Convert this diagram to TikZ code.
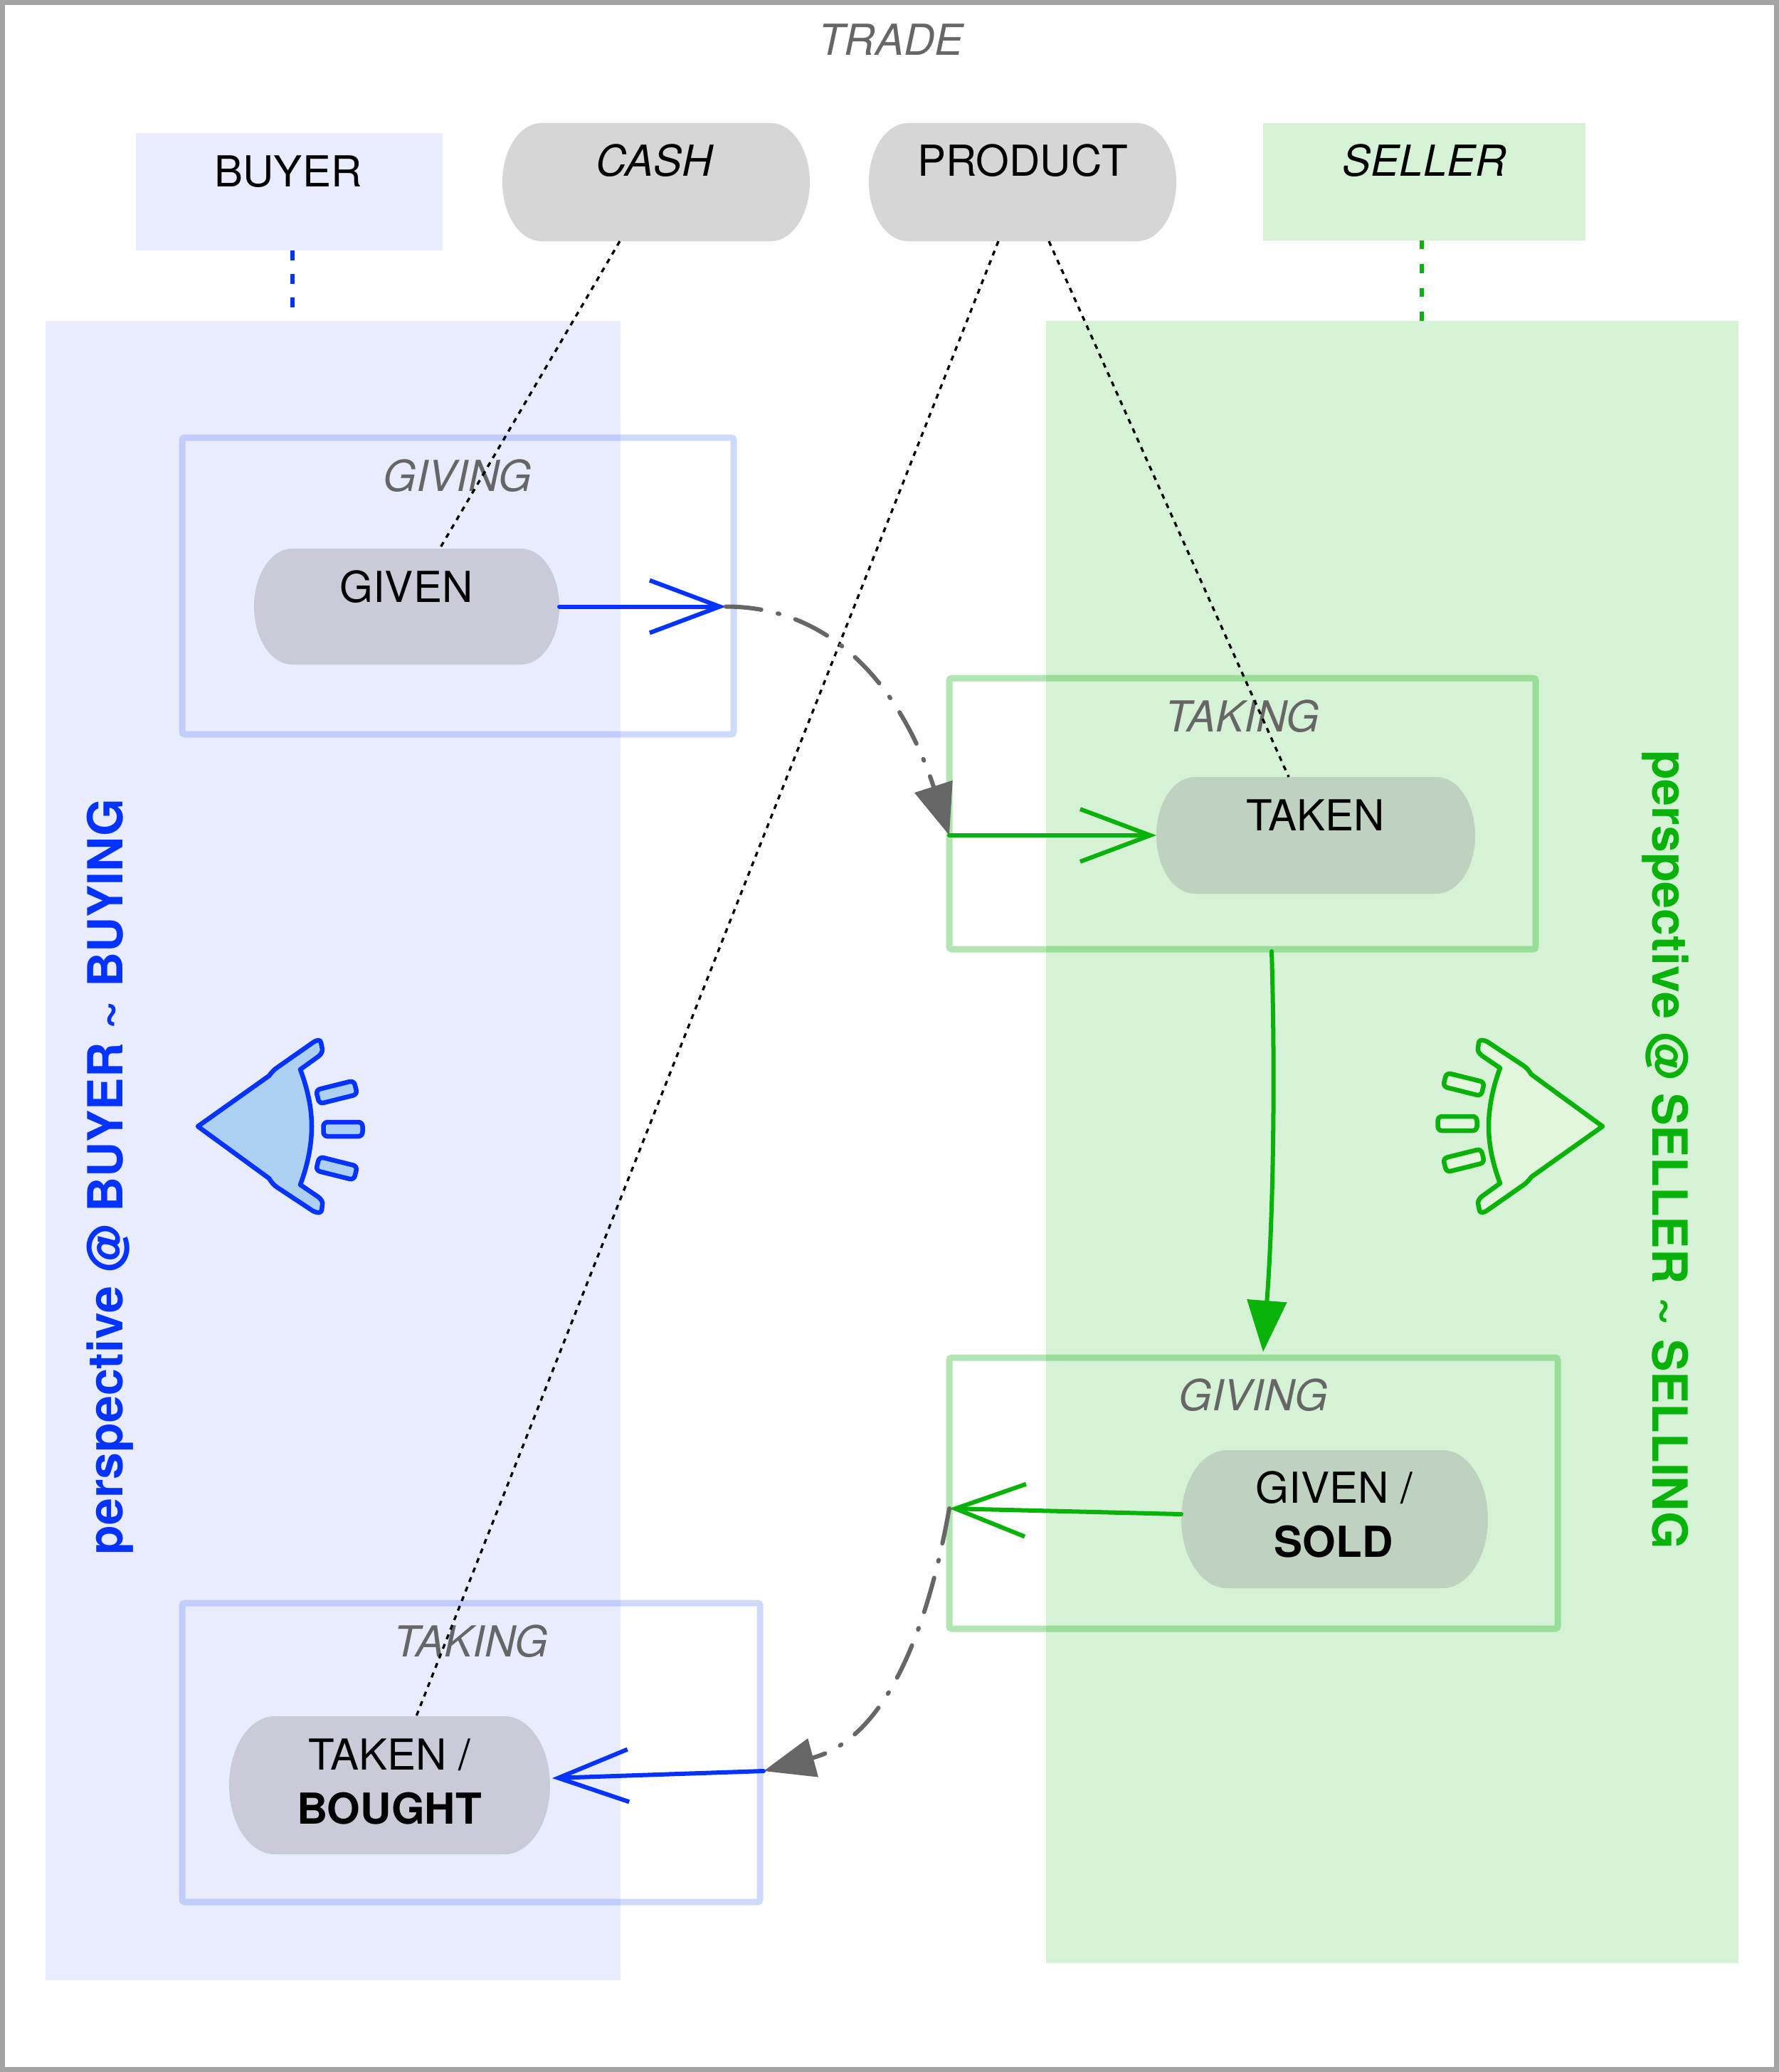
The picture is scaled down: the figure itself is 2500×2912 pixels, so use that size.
\documentclass[tikz,border=0pt]{standalone}
\usepackage{fontspec}
\setmainfont{TeX Gyre Heros}
\usetikzlibrary{arrows.meta,calc}
\definecolor{bblue}{RGB}{4,51,255}
\definecolor{ggreen}{RGB}{9,178,9}
\definecolor{bregc}{RGB}{233,236,253}
\definecolor{gregc}{RGB}{214,242,214}
\definecolor{nodegray}{RGB}{214,214,214}
\definecolor{nodeb}{RGB}{201,204,216}
\definecolor{nodeg}{RGB}{191,209,191}
\definecolor{labgray}{RGB}{102,102,102}
\definecolor{framegray}{RGB}{164,164,164}
\definecolor{bboxc}{RGB}{120,150,245}
\definecolor{gboxc}{RGB}{60,190,60}
\definecolor{beyefill}{RGB}{173,208,242}
\definecolor{geyefill}{RGB}{226,245,221}
\newcommand\lblfont{\fontsize{17.07pt}{21.6pt}\selectfont}
\newcommand\perspfont{\fontsize{19.35pt}{23pt}\selectfont\bfseries}
% stadium: name, x1, y1, x2, y2, fill
\newcommand\stadium[6]{%
  \pgfmathsetmacro\stxa{#2}\pgfmathsetmacro\stya{#3}%
  \pgfmathsetmacro\stxb{#4}\pgfmathsetmacro\styb{#5}%
  \pgfmathsetmacro\stry{(\styb-\stya)/2}%
  \pgfmathsetmacro\strx{0.66*\stry}%
  \pgfmathsetmacro\stym{(\stya+\styb)/2}%
  \pgfmathsetmacro\stxm{(\stxa+\stxb)/2}%
  \pgfmathsetmacro\stkx{0.5523*\strx}\pgfmathsetmacro\stky{0.5523*\stry}%
  \fill[#6] ({\stxa+\strx},\stya) -- ({\stxb-\strx},\stya)
     .. controls ({\stxb-\strx+\stkx},\stya) and (\stxb,{\stym-\stky}) .. (\stxb,\stym)
     .. controls (\stxb,{\stym+\stky}) and ({\stxb-\strx+\stkx},\styb) .. ({\stxb-\strx},\styb)
     -- ({\stxa+\strx},\styb)
     .. controls ({\stxa+\strx-\stkx},\styb) and (\stxa,{\stym+\stky}) .. (\stxa,\stym)
     .. controls (\stxa,{\stym-\stky}) and ({\stxa+\strx-\stkx},\stya) .. cycle;
  \node[inner sep=0pt, outer sep=0pt, minimum width={(\stxb-\stxa)*0.01cm},
        minimum height={(\styb-\stya)*0.01cm}] (#1) at (\stxm,\stym) {};
}
% rectangle node: name, style, x1, y1, x2, y2
\newcommand\rectnode[6]{%
  \node[#2, inner sep=0pt, outer sep=0pt, anchor=north west,
        minimum width={(#5-#3)*0.01cm}, minimum height={(#6-#4)*0.01cm}] (#1) at (#3,#4) {};
}
\tikzset{
  eyeball/.pic={
    \draw[eyeline, line width=1.85pt, line join=round]
      (0,0) -- (100,-71) .. controls (104,-76) and (106,-79) .. (112,-83) -- (162,-118)
      .. controls (168,-122) and (172,-122) .. (173,-118) -- (175,-108)
      .. controls (175,-104) and (172,-100) .. (169,-98) -- (144,-80)
      .. controls (156,-48) and (160,-22) .. (160,0)
      .. controls (160,22) and (156,50) .. (144,82) -- (169,99)
      .. controls (173,102) and (176,106) .. (175,110) -- (174,118)
      .. controls (173,122) and (168,122) .. (162,119) -- (112,86)
      .. controls (106,82) and (104,79) .. (100,73) -- cycle;
    \draw[eyeline, line width=1.85pt, rounded corners=1.7pt, shift={(195,-48)}, rotate=14]
      (-27.5,-10) rectangle (27.5,10);
    \draw[eyeline, line width=1.85pt, rounded corners=1.7pt, shift={(204,4)}]
      (-27.5,-10) rectangle (27.5,10);
    \draw[eyeline, line width=1.85pt, rounded corners=1.7pt, shift={(195,59)}, rotate=-14]
      (-27.5,-10) rectangle (27.5,10);
  }
}
\begin{document}
\begin{tikzpicture}[x=0.01cm, y=-0.01cm,
  regionb/.style={fill=bregc},
  regiong/.style={fill=gregc},
  boxb/.style={draw=bboxc, draw opacity=0.35, line width=2.56pt, rounded corners=1pt},
  boxg/.style={draw=gboxc, draw opacity=0.4, line width=2.56pt, rounded corners=1pt},
  lbl/.style={font=\lblfont\itshape, text=labgray, anchor=base, inner sep=0pt},
  txt/.style={font=\lblfont, text=black, anchor=base, inner sep=0pt},
  persp/.style={font=\perspfont, anchor=base, inner sep=0pt},
  openhead/.style={-{Straight Barb[length=28pt,width=21pt]}},
  fullhead/.style={-{Triangle[length=20.5pt,width=15.6pt]}},
  bluearrow/.style={draw=bblue, line width=1.71pt, line cap=round, openhead},
  greenarrow/.style={draw=ggreen, line width=1.71pt, line cap=round, openhead},
  greendown/.style={draw=ggreen, line width=1.71pt, line cap=round, fullhead},
  grayflow/.style={draw=labgray, line width=1.71pt, line cap=round,
    dash pattern=on 14.2pt off 6.8pt on 0.6pt off 6.8pt, fullhead},
  linkdots/.style={draw=black, line width=0.95pt, dash pattern=on 2pt off 2.1pt},
  bdots/.style={draw=bblue, line width=1.5pt, dash pattern=on 4pt off 5.4pt},
  gdots/.style={draw=ggreen, line width=1.5pt, dash pattern=on 3.5pt off 6pt}
]
\useasboundingbox (0,0) rectangle (2500,2912);
\draw[draw=framegray, fill=white, line width=1.99pt] (3.5,3.5) rectangle (2496.5,2908.5);

% regions
\rectnode{breg}{regionb}{64}{451}{872}{2783}
\rectnode{greg}{regiong}{1470}{451}{2443}{2759}

% top row
\node[lbl] (trade) at (1252,78) {TRADE};
\rectnode{buyer}{regionb}{191}{187}{622}{352}
\rectnode{seller}{regiong}{1775}{173}{2228}{338}
\stadium{cash}{706}{173}{1138}{339}{nodegray}
\stadium{product}{1221}{173}{1653}{339}{nodegray}
\node[txt] (buyert) at (405,262) {BUYER};
\node[txt, font=\lblfont\itshape] (casht) at (920,248) {CASH};
\node[txt] (productt) at (1437,248) {PRODUCT};
\node[txt, font=\lblfont\itshape] (sellert) at (2002,248) {SELLER};

% frames
\rectnode{bgiving}{boxb}{256}{615}{1031}{1032}
\rectnode{btaking}{boxb}{256}{2253}{1068}{2673}
\rectnode{staking}{boxg}{1334}{953}{2158}{1334}
\rectnode{sgiving}{boxg}{1334}{1908}{2189}{2289}
\node[lbl] (bgivingl) at (643,690) {GIVING};
\node[lbl] (btakingl) at (662,2328) {TAKING};
\node[lbl] (stakingl) at (1746,1028) {TAKING};
\node[lbl] (sgivingl) at (1761,1982) {GIVING};

% state nodes
\stadium{given}{357}{771}{786}{934}{nodeb}
\stadium{taken}{1625}{1092}{2073}{1256}{nodeg}
\stadium{sold}{1660}{2038}{2091}{2232}{nodeg}
\stadium{bought}{322}{2412}{773}{2606}{nodeb}
\node[txt] (givent) at (571,846) {GIVEN};
\node[txt] (takent) at (1849,1167) {TAKEN};
\node[txt] (soldt1) at (1875,2112) {GIVEN /};
\node[txt, font=\lblfont\bfseries] (soldt2) at (1874,2188) {SOLD};
\node[txt] (boughtt1) at (547,2487) {TAKEN /};
\node[txt, font=\lblfont\bfseries] (boughtt2) at (547,2563) {BOUGHT};

% perspectives
\node[persp, text=bblue, rotate=90] (pbuy) at (172,1654) {perspective @ BUYER \textasciitilde{} BUYING};
\node[persp, text=ggreen, rotate=-90] (psell) at (2322,1616) {perspective @ SELLER \textasciitilde{} SELLING};

% eyes
\pic[eyeline/.style={draw=bblue, fill=beyefill}] at (278,1583) {eyeball};
\pic[eyeline/.style={draw=ggreen, fill=geyefill}, rotate=180] at (2252,1583) {eyeball};

% dotted links
\coordinate (bd) at ($(buyer.south)+(4.5,0)$);
\coordinate (sd) at ($(seller.south)+(-3.5,0)$);
\draw[bdots] (bd) -- (bd |- breg.north);
\draw[gdots] (sd) -- (sd |- greg.north);
\draw[linkdots] ($(cash.south west)+(165,0)$) -- ($(given.north west)+(261,0)$);
\draw[linkdots] ($(product.south west)+(182,0)$) -- ($(bought.north west)+(263,0)$);
\draw[linkdots] ($(product.south west)+(253,0)$) -- ($(taken.north west)+(186,0)$);

% flow
\coordinate (j1) at ($(given.east -| bgiving.east)+(-11,0)$);
\coordinate (j2) at (taken.west -| staking.west);
\coordinate (j3) at ($(sgiving.west)+(0,21.5)$);
\coordinate (j4) at ($(btaking.east)+(5,26)$);
\draw[bluearrow] (given.east) -- (j1);
\draw[grayflow] (j1) .. controls +(176,0) and +(-54,-167) .. (j2);
\draw[greenarrow] (j2) -- (taken.west);
\draw[greendown] ($(staking.south)+(41,3)$) .. controls +(5,163) and +(15,-200) .. ($(sgiving.north)+(13.5,-8)$);
\draw[greenarrow] ($(sold.west)+(0,-7)$) -- (j3);
\draw[grayflow] (j3) .. controls +(-31,174) and +(171,-46) .. (j4);
\draw[bluearrow] (j4) -- ($(bought.east)+(3,-10)$);
\end{tikzpicture}
\end{document}
